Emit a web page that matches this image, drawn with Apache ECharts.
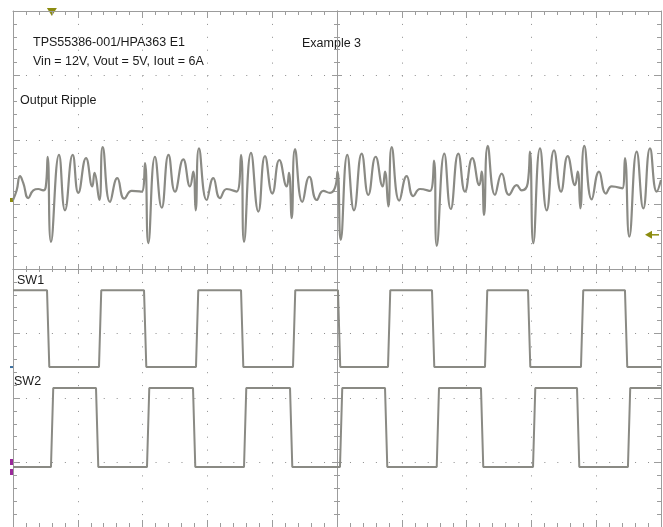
<!DOCTYPE html>
<html>
  <head>
    <title></title>
    <meta charset="UTF-8" />
    <script src="https://cdn.jsdelivr.net/npm/echarts@6/dist/echarts.min.js"></script>
    <style>
      body { margin: 0; background: #fff; }
    </style>
  </head>
  <body>
    <div id="main"></div>
    <script>
      const width = 663;
      const height = 527;
      const main = document.getElementById('main');
      main.style.width = `${width}px`;
      main.style.height = `${height}px`;

      // time and level in screen divisions (10 x 8, centred on 0)
      const rippleT = [
        -5.0, -4.943, -4.892, -4.841, -4.764, -4.687, -4.61, -4.532, -4.495, -4.465,
        -4.414, -4.29, -4.198, -4.079, -3.992, -3.873, -3.776, -3.742, -3.668, -3.616,
        -3.503, -3.39, -3.282, -3.168, -3.014, -2.963, -2.912, -2.809, -2.705, -2.6,
        -2.5, -2.372, -2.269, -2.218, -2.181, -2.13, -2.011, -1.909, -1.806, -1.702,
        -1.548, -1.481, -1.435, -1.327, -1.214, -1.111, -0.998, -0.89, -0.776, -0.741,
        -0.699, -0.648, -0.535, -0.427, -0.313, -0.211, -0.108, -0.031, 0.008, 0.057,
        0.159, 0.262, 0.381, 0.483, 0.597, 0.705, 0.741, 0.792, 0.844, 0.961,
        1.076, 1.177, 1.281, 1.435, 1.497, 1.539, 1.656, 1.755, 1.872, 1.975,
        2.088, 2.196, 2.233, 2.269, 2.326, 2.438, 2.542, 2.654, 2.773, 2.85,
        2.943, 2.978, 3.029, 3.133, 3.236, 3.349, 3.457, 3.56, 3.673, 3.715,
        3.755, 3.816, 3.931, 4.043, 4.151, 4.239, 4.403, 4.444, 4.511, 4.625,
        4.727, 4.83, 4.934, 5.0
      ];
      const rippleV = [
        1.07, 1.22, 1.44, 1.33, 1.10, 1.22, 1.24, 1.22, 1.27, 1.74,
        0.42, 1.77, 0.91, 1.77, 1.18, 1.72, 1.28, 1.49, 1.07, 1.89,
        1.04, 1.41, 1.09, 1.21, 1.20, 1.64, 0.40, 1.74, 0.95, 1.77,
        1.20, 1.70, 1.28, 1.51, 0.91, 1.87, 1.07, 1.41, 1.10, 1.24,
        1.20, 1.77, 0.42, 1.80, 0.89, 1.75, 1.17, 1.69, 1.28, 1.49,
        0.79, 1.86, 1.04, 1.43, 1.07, 1.21, 1.18, 1.26, 1.51, 0.45,
        1.77, 0.91, 1.79, 1.15, 1.74, 1.28, 1.51, 0.97, 1.89, 1.06,
        1.44, 1.13, 1.24, 1.21, 1.68, 0.36, 1.79, 0.93, 1.79, 1.20,
        1.72, 1.30, 1.51, 0.84, 1.91, 1.15, 1.48, 1.15, 1.30, 1.22,
        1.33, 1.82, 0.40, 1.87, 0.91, 1.84, 1.20, 1.75, 1.30, 1.51,
        0.94, 1.91, 1.08, 1.51, 1.17, 1.28, 1.25, 1.72, 0.50, 1.82,
        0.94, 1.87, 1.20, 1.38
      ];

      // switch node edges (divisions), first level given by startHigh
      const sw1Edges = [-4.475, -3.673, -2.978, -2.176, -1.481, -0.679, 0.015, 0.787, 1.466, 2.284, 2.948, 3.765, 4.444];
      const sw2Edges = [-4.414, -3.719, -2.932, -2.222, -1.435, -0.725, 0.046, 0.741, 1.539, 2.222, 3.025, 3.704, 4.49];
      const sw1Levels = { high: -0.33, low: -1.52, startHigh: true };
      const sw2Levels = { high: -1.845, low: -3.07, startHigh: false };

      const triggerT = -4.4;
      const rippleRef = 0.53;

      const border = '#9c9c9c';
      const trace = '#8a8a84';
      const olive = '#8c8c10';

      const ripple = rippleT.map((t, i) => [t, rippleV[i]]);

      function square(edges, lv) {
        let high = lv.startHigh;
        const pts = [[-5, high ? lv.high : lv.low]];
        edges.forEach(e => {
          pts.push([e, high ? lv.high : lv.low]);
          high = !high;
          pts.push([e + 0.035, high ? lv.high : lv.low]);
        });
        pts.push([5, high ? lv.high : lv.low]);
        return pts;
      }

      const line = { color: border, width: 1 };
      const hideLabel = { show: false };

      function borderX(pos, split) {
        return {
          type: 'value', min: -5, max: 5, interval: 1, position: pos,
          axisLine: { onZero: false, lineStyle: line },
          axisTick: { inside: true, length: 7, lineStyle: line },
          minorTick: { show: true, splitNumber: 5, length: 4, lineStyle: line },
          axisLabel: hideLabel,
          splitLine: { show: split, lineStyle: { color: '#8c8c8c', width: 1, type: [1, 11.9] } }
        };
      }
      function borderY(pos, split) {
        return {
          type: 'value', min: -4, max: 4, interval: 1, position: pos,
          axisLine: { onZero: false, lineStyle: line },
          axisTick: { inside: true, length: 7, lineStyle: line },
          minorTick: { show: true, splitNumber: 5, length: 4, lineStyle: line },
          axisLabel: hideLabel,
          splitLine: { show: split, lineStyle: { color: '#8c8c8c', width: 1, type: [1, 11.96] } }
        };
      }
      function centreX(inside) {
        return {
          type: 'value', min: -5, max: 5, interval: 1,
          axisLine: { onZero: true, lineStyle: line },
          axisTick: { inside: inside, length: 5, lineStyle: line },
          minorTick: { show: true, splitNumber: 5, length: 3, lineStyle: line },
          axisLabel: hideLabel, splitLine: { show: false }
        };
      }
      function centreY(inside) {
        return {
          type: 'value', min: -4, max: 4, interval: 1,
          axisLine: { onZero: true, lineStyle: line },
          axisTick: { inside: inside, length: 5, lineStyle: line },
          minorTick: { show: true, splitNumber: 5, length: 3, lineStyle: line },
          axisLabel: hideLabel, splitLine: { show: false }
        };
      }

      const font = 'Liberation Sans, Arial, sans-serif';
      const txt = (id, left, top, text) => ({
        type: 'text', id: id, left: left, top: top,
        style: { text: text, fill: '#1a1a1a', font: `12.5px ${font}` }
      });

      const myChart = echarts.init(main);
      const option = {
        animation: false,
        backgroundColor: '#fff',
        grid: { left: 13, right: 2, top: 11, bottom: 0 },
        xAxis: [borderX('top', true), borderX('bottom', false), centreX(true), centreX(false)],
        yAxis: [borderY('left', true), borderY('right', false), centreY(true), centreY(false)],
        series: [
          {
            name: 'Output Ripple', type: 'line', data: ripple, smooth: 0.5,
            showSymbol: false, lineStyle: { color: trace, width: 2.2 }
          },
          {
            name: 'SW1', type: 'line', data: square(sw1Edges, sw1Levels),
            showSymbol: false, lineStyle: { color: trace, width: 2 }
          },
          {
            name: 'SW2', type: 'line', data: square(sw2Edges, sw2Levels),
            showSymbol: false, lineStyle: { color: trace, width: 2 }
          }
        ],
        graphic: [
          txt('t1', 33, 36, 'TPS55386-001/HPA363 E1'),
          txt('t2', 33, 55, 'Vin = 12V, Vout = 5V, Iout = 6A'),
          txt('t3', 20, 94, 'Output Ripple'),
          txt('t4', 302, 37, 'Example 3'),
          txt('t5', 17, 274, 'SW1'),
          txt('t6', 14, 375, 'SW2')
        ]
      };
      myChart.setOption(option);

      // channel / trigger markers
      const px = p => myChart.convertToPixel({ xAxisIndex: 0, yAxisIndex: 0 }, p);
      const trig = px([triggerT, 4]);
      const ref = px([5, rippleRef]);
      const left1 = px([-5, rippleV[0]]);
      const left2 = px([-5, sw1Levels.low]);
      const left3 = px([-5, sw2Levels.low]);
      myChart.setOption({
        graphic: [
          { id: 'm1', type: 'polygon', shape: { points: [[trig[0] - 5, trig[1] - 3], [trig[0] + 5, trig[1] - 3], [trig[0], trig[1] + 5]] }, style: { fill: olive } },
          { id: 'm2', type: 'polygon', shape: { points: [[ref[0] - 16, ref[1]], [ref[0] - 9, ref[1] - 4], [ref[0] - 9, ref[1] + 4]] }, style: { fill: olive } },
          { id: 'm3', type: 'line', shape: { x1: ref[0] - 10, y1: ref[1], x2: ref[0] - 2, y2: ref[1] }, style: { stroke: olive, lineWidth: 1.5 } },
          { id: 'm4', type: 'rect', shape: { x: left1[0] - 3, y: left1[1] - 2, width: 3, height: 4 }, style: { fill: olive } },
          { id: 'm5', type: 'rect', shape: { x: left2[0] - 3, y: left2[1] - 1, width: 3, height: 2 }, style: { fill: '#3a6fa0' } },
          { id: 'm6', type: 'rect', shape: { x: left3[0] - 3, y: left3[1] - 8, width: 3, height: 6 }, style: { fill: '#9a2a9a' } },
          { id: 'm7', type: 'rect', shape: { x: left3[0] - 3, y: left3[1] + 2, width: 3, height: 6 }, style: { fill: '#9a2a9a' } }
        ]
      });
    </script>
  </body>
</html>
